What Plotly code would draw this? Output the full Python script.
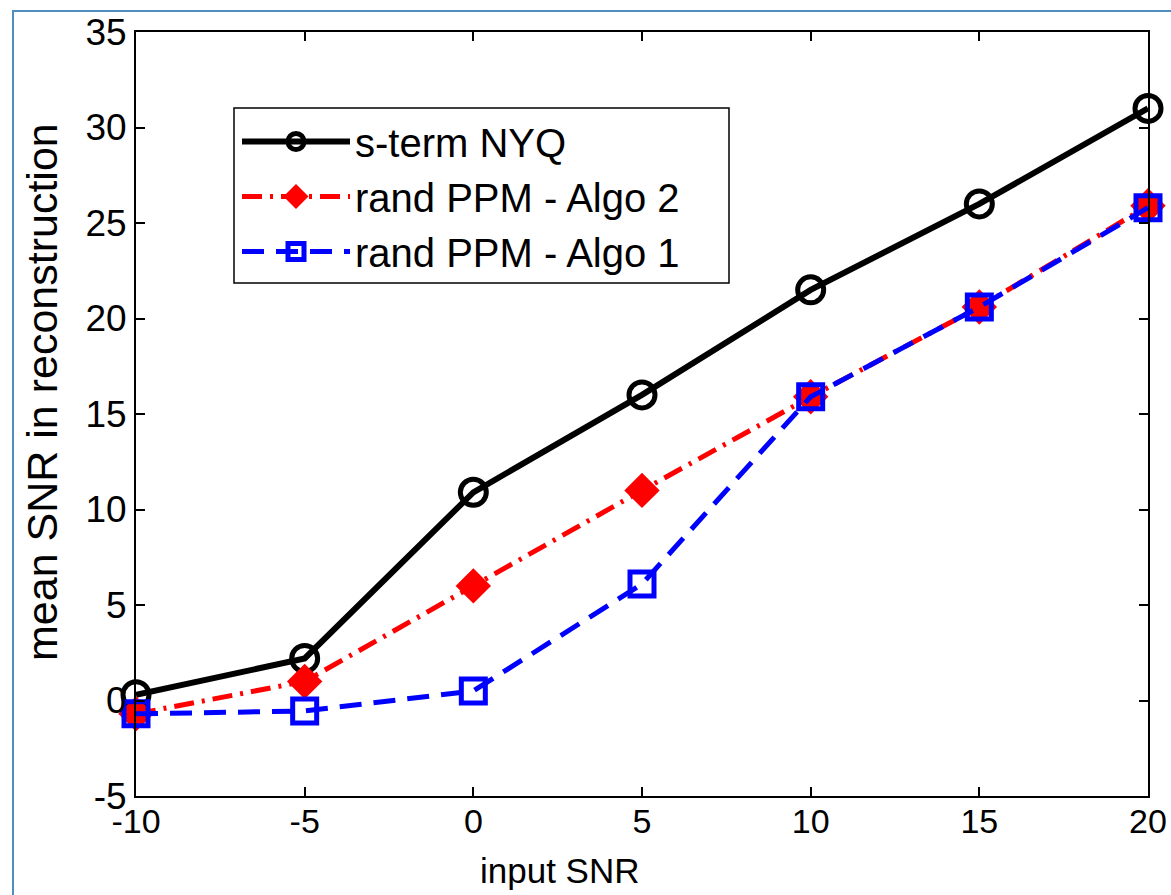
import plotly.graph_objects as go

input_snr = [-10, -5, 0, 5, 10, 15, 20]
nyq = [0.3, 2.2, 10.9, 16.0, 21.5, 26.0, 31.0]
algo2 = [-0.7, 1.0, 6.0, 11.0, 15.9, 20.6, 25.9]
algo1 = [-0.7, -0.55, 0.5, 6.1, 15.9, 20.6, 25.8]
names = ["s-term NYQ", "rand PPM - Algo 2", "rand PPM - Algo 1"]
x_ticks = [-10, -5, 0, 5, 10, 15, 20]
x_ticklabels = ["-10", "-5", "0", "5", "10", "15", "20"]
y_ticks = [-5, 0, 5, 10, 15, 20, 25, 30, 35]
y_ticklabels = ["-5", "0", "5", "10", "15", "20", "25", "30", "35"]

W, H = 1171, 895
PL, PT, PR, PB = 136, 32, 1148, 796          # plot area in page pixels
pw, ph = PR - PL, PB - PT
L, T, R, B = PL, PT, W - PR, H - PB

def px(xp):
    return (xp - PL) / pw

def py(yp):
    return (PB - yp) / ph

FONT = "Arial, Liberation Sans"

fig = go.Figure()
fig.add_trace(go.Scatter(
    x=input_snr, y=nyq, name=names[0], mode="lines+markers", legendgroup="a",
    line=dict(color="black", width=6),
    marker=dict(symbol="circle-open", size=26, color="black", line=dict(width=5, color="black")),
    cliponaxis=False))
fig.add_trace(go.Scatter(
    x=input_snr, y=algo2, name=names[1], mode="lines+markers", legendgroup="b",
    line=dict(color="red", width=5, dash="20px,8px,3px,8px"),
    marker=dict(symbol="diamond", size=24, color="red", line=dict(width=3, color="red")),
    cliponaxis=False))
fig.add_trace(go.Scatter(
    x=input_snr, y=algo1, name=names[2], mode="lines+markers", legendgroup="c",
    line=dict(color="blue", width=5, dash="22px,12px"),
    marker=dict(symbol="square-open", size=24, color="blue", line=dict(width=5, color="blue")),
    cliponaxis=False))

axis_common = dict(
    showline=True, mirror="allticks", linecolor="black", linewidth=2,
    ticks="inside", ticklen=9, tickwidth=1.5, tickcolor="black",
    showgrid=False, zeroline=False, tickmode="array", automargin=False,
    ticklabeloverflow="allow",
)
fig.update_xaxes(range=[-10, 20], tickvals=x_ticks, ticktext=x_ticklabels,
                 tickfont=dict(family=FONT, size=34, color="black"),
                 ticklabelstandoff=-6,
                 **axis_common)
fig.update_yaxes(range=[-5, 35], tickvals=y_ticks, ticktext=y_ticklabels,
                 tickfont=dict(family=FONT, size=37, color="black"),
                 **axis_common)

fig.add_annotation(text="input SNR", xref="paper", yref="paper",
                   x=px(560), y=py(870), xanchor="center", yanchor="middle",
                   showarrow=False, font=dict(family=FONT, size=35, color="black"))
fig.add_annotation(text="mean SNR in reconstruction", xref="paper", yref="paper",
                   x=px(42), y=py(392), xanchor="center", yanchor="middle", textangle=-90,
                   showarrow=False, font=dict(family=FONT, size=43, color="black"))

# outer light-blue frame of the figure
fig.add_shape(type="rect", xref="paper", yref="paper",
              x0=px(13), y0=py(910), x1=px(1185), y1=py(11),
              line=dict(color="#4f8fbf", width=2), fillcolor="rgba(0,0,0,0)", layer="below")
# legend box (the built-in legend is drawn on top of it without its own border)
fig.add_shape(type="rect", xref="paper", yref="paper",
              x0=px(234), y0=py(283), x1=px(729), y1=py(108),
              line=dict(color="black", width=1.5), fillcolor="white", layer="above")

fig.update_layout(
    width=W, height=H,
    margin=dict(l=L, r=R, t=T, b=B, pad=0, autoexpand=False),
    paper_bgcolor="white", plot_bgcolor="white",
    showlegend=True,
    legend=dict(x=px(237), y=py(109), xanchor="left", yanchor="top",
                bgcolor="rgba(0,0,0,0)", borderwidth=0,
                font=dict(family=FONT, size=40, color="black"),
                itemwidth=108, tracegroupgap=1, traceorder="normal"),
)

fig.write_html("out.html", config={"displayModeBar": False},
               post_script="document.body.style.margin='0';")
